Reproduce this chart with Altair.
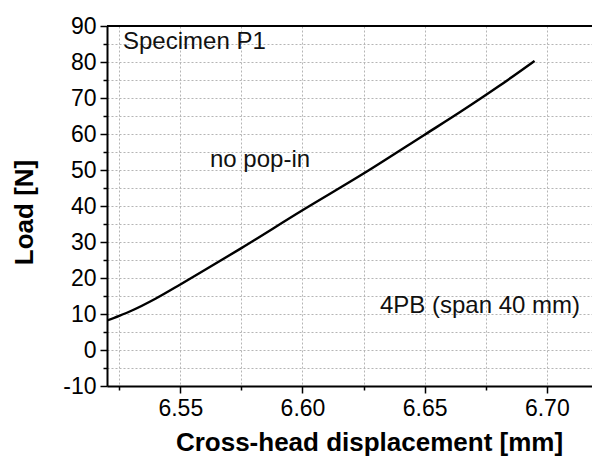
import altair as alt
import pandas as pd

# Data
disp = [6.520, 6.525, 6.530, 6.540, 6.550, 6.560, 6.575, 6.600, 6.625, 6.650, 6.665, 6.680, 6.695]
load = [8.2, 9.5, 10.9, 14.3, 18.2, 22.2, 28.3, 38.8, 49.0, 59.8, 66.3, 73.1, 80.3]

x_ticks = [6.525, 6.55, 6.575, 6.60, 6.625, 6.65, 6.675, 6.70]
y_ticks = [-10, -5, 0, 5, 10, 15, 20, 25, 30, 35, 40, 45, 50, 55, 60, 65, 70, 75, 80, 85, 90]

annotations = ["Specimen P1", "no pop-in", "4PB (span 40 mm)"]

df = pd.DataFrame({"disp": disp, "load": load})

FONT = "Liberation Sans"
W, H = 485, 360

x_major = "abs(datum.value*20 - round(datum.value*20)) < 0.001"
y_major = "datum.value % 10 === 0"

x_axis = alt.Axis(
    title="Cross-head displacement [mm]",
    values=x_ticks,
    labelExpr=f"{x_major} ? format(datum.value, '.2f') : ''",
    labelFont=FONT, labelFontSize=23, labelColor="black", labelPadding=4,
    labelOverlap=False, labelFlush=False,
    titleFont=FONT, titleFontSize=26, titleFontWeight="bold", titleColor="black",
    titleX=262, titleY=64, titleBaseline="alphabetic", titleAnchor="middle",
    domainColor="black", domainWidth=2,
    tickColor="black", tickWidth=1.5,
    tickSize={"condition": {"test": x_major, "value": 7}, "value": 4},
    grid=True, gridColor="#b5b5b5", gridDash=[2, 2], gridWidth=1,
)

y_axis = alt.Axis(
    title="Load [N]",
    values=y_ticks,
    labelExpr=f"{y_major} ? ('' + datum.value) : ''",
    labelFont=FONT, labelFontSize=23, labelColor="black", labelPadding=4,
    labelOverlap=False, labelFlush=False,
    titleFont=FONT, titleFontSize=26, titleFontWeight="bold", titleColor="black",
    titleX=-75, titleY=186, titleBaseline="alphabetic", titleAngle=-90, titleAnchor="middle",
    domainColor="black", domainWidth=2,
    tickColor="black", tickWidth=1.5,
    tickSize={"condition": {"test": y_major, "value": 7}, "value": 4},
    grid=True, gridColor="#b5b5b5", gridDash=[2, 2], gridWidth=1,
)

line = alt.Chart(df).mark_line(color="black", strokeWidth=2.4, clip=True, interpolate="monotone").encode(
    x=alt.X("disp:Q", scale=alt.Scale(domain=[6.52, 6.7185], nice=False, zero=False), axis=x_axis),
    y=alt.Y("load:Q", scale=alt.Scale(domain=[-10, 90], nice=False, zero=False), axis=y_axis),
)

top_border = alt.Chart(df).mark_rule(color="black", strokeWidth=2).encode(
    x=alt.value(0), x2=alt.value(W), y=alt.value(0)
)

def label(text, px, py):
    return alt.Chart(pd.DataFrame({"t": [text]})).mark_text(
        font=FONT, fontSize=24, color="#111111", align="left", baseline="alphabetic"
    ).encode(text="t:N", x=alt.value(px), y=alt.value(py))

chart = alt.layer(
    line,
    top_border,
    label(annotations[0], 16, 22.5),
    label(annotations[1], 103, 141),
    label(annotations[2], 273, 287),
).properties(
    width=W, height=H, autosize="none",
    padding={"left": 107, "top": 26, "right": 0, "bottom": 73},
    background="white",
).configure_view(stroke=None)

chart.save("out.html", embed_options={"renderer": "svg", "actions": False})
